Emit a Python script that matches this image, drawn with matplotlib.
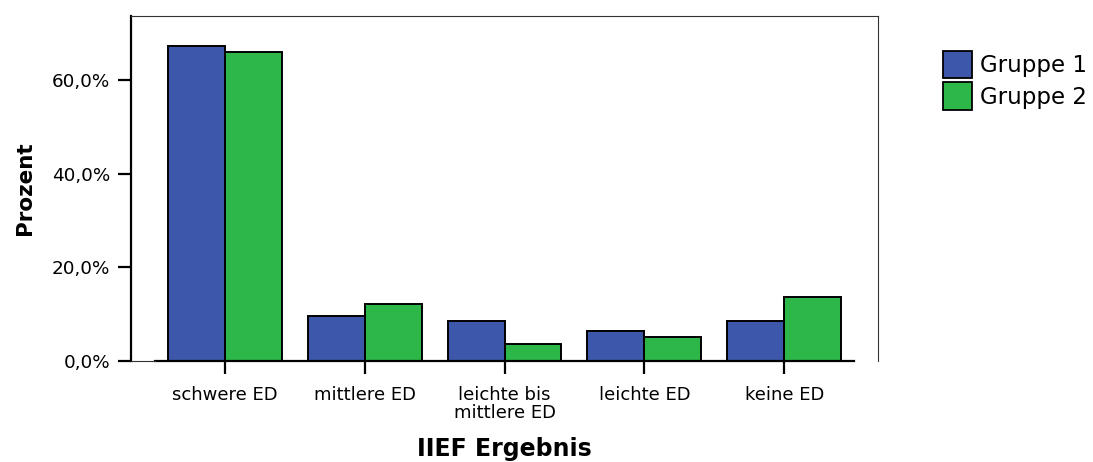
import numpy as np
import matplotlib.pyplot as plt
from matplotlib.patches import Patch

plt.rcParams['font.family'] = ['DejaVu Sans']

categories = ['schwere ED', 'mittlere ED', 'leichte bis\nmittlere ED', 'leichte ED', 'keine ED']
gruppe1 = [67.4, 9.6, 8.5, 6.4, 8.5]
gruppe2 = [66.1, 12.1, 3.5, 5.1, 13.7]
series_names = ['Gruppe 1', 'Gruppe 2']
colors = ['#3D58AA', '#2EB749']
yticks = [0, 20, 40, 60]
ytick_labels = ['0,0%', '20,0%', '40,0%', '60,0%']

fig = plt.figure(figsize=(10.93, 4.62), dpi=100)
ax = fig.add_axes([131/1093, 1 - 360.7/462, (878-131)/1093, (360.7-15.7)/462])

x = np.arange(len(categories))
w = 0.407
ax.bar(x - w/2, gruppe1, w, color=colors[0], edgecolor='black', linewidth=1.4, zorder=3)
ax.bar(x + w/2, gruppe2, w, color=colors[1], edgecolor='black', linewidth=1.4, zorder=3)

ax.set_xlim(-0.67, 4.67)
ax.set_ylim(0, 73.8)

# baseline: thick across the categories, thin stub at the left
ax.plot([-0.5, 4.5], [0, 0], color='black', lw=1.6, clip_on=False, zorder=4)
ax.plot([-0.67, -0.5], [0, 0], color='#333333', lw=0.8, clip_on=False, zorder=4)

ax.spines['bottom'].set_visible(False)
ax.spines['left'].set_linewidth(1.6)
for s in ['top', 'right']:
    ax.spines[s].set_linewidth(0.8)
    ax.spines[s].set_color('#333333')

ax.set_yticks(yticks)
ax.set_yticklabels(ytick_labels, fontsize=13.2)
ax.set_xticks(x)
ax.set_xticklabels(categories, fontsize=13, linespacing=1.0, va='top')
ax.tick_params(axis='y', direction='out', length=9.5, width=1.6, pad=5.5)
ax.tick_params(axis='x', direction='out', length=9.5, width=1.6, pad=9)

ax.set_ylabel('Prozent', fontsize=15.5, fontweight='bold', labelpad=12)
ax.set_xlabel('IIEF Ergebnis', fontsize=17, fontweight='bold', va='center')
ax.xaxis.set_label_coords(0.5, -0.256)

handles = [Patch(facecolor=c, edgecolor='black', linewidth=1.3) for c in colors]
fig.legend(handles, series_names, loc='upper left', bbox_to_anchor=(943/1093, 1 - 51/462),
           frameon=False, fontsize=16.5, handlelength=1.25, handleheight=1.45,
           handletextpad=0.35, labelspacing=0.18, borderpad=0, borderaxespad=0)

fig.savefig('out.png', dpi=100)
